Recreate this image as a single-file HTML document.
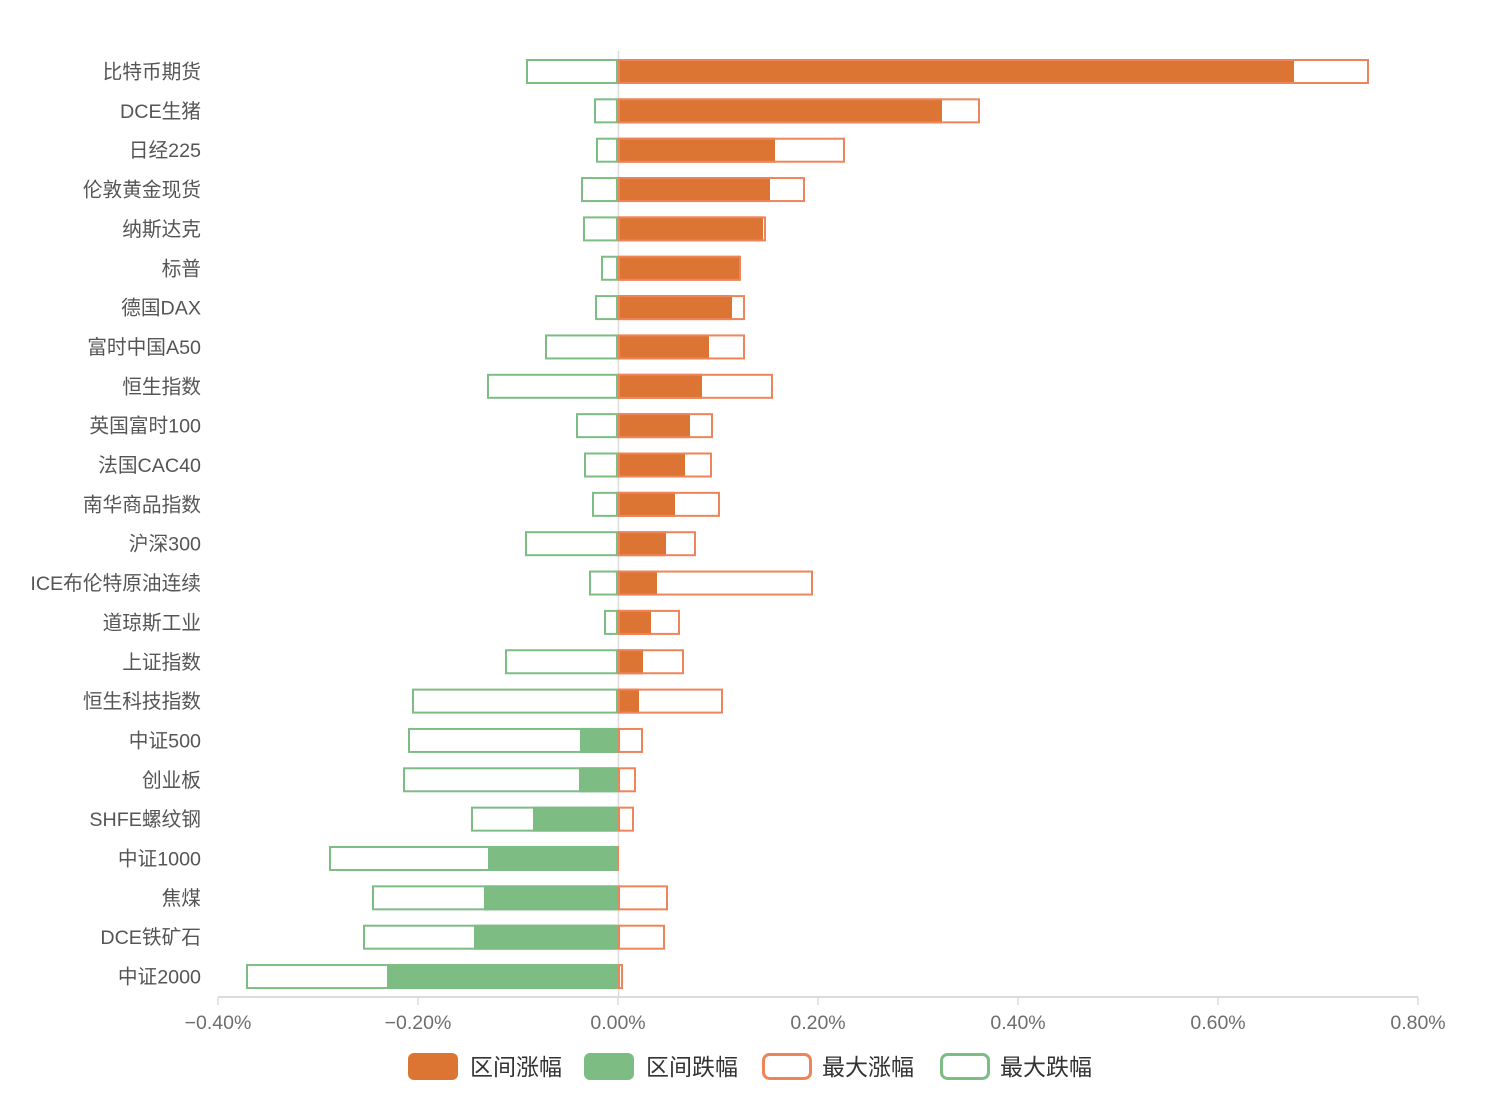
<!DOCTYPE html>
<html><head><meta charset="utf-8"><style>
html,body{margin:0;padding:0;background:#fff;}
svg{display:block;}
text{font-family:"Liberation Sans","Noto Sans CJK SC",sans-serif;}
</style></head><body>
<svg id="c" width="1508" height="1108" xmlns="http://www.w3.org/2000/svg">
<line x1="618.5" y1="51" x2="618.5" y2="997" stroke="#dcdcdc" stroke-width="1.5"/>
<g id="bars"></g>
<line x1="218" y1="997" x2="1418" y2="997" stroke="#dcdcdc" stroke-width="2"/>
<g stroke="#dcdcdc" stroke-width="1.5">
<line x1="218" y1="997" x2="218" y2="1005"/><line x1="418" y1="997" x2="418" y2="1005"/>
<line x1="618" y1="997" x2="618" y2="1005"/><line x1="818" y1="997" x2="818" y2="1005"/>
<line x1="1018" y1="997" x2="1018" y2="1005"/><line x1="1218" y1="997" x2="1218" y2="1005"/>
<line x1="1418" y1="997" x2="1418" y2="1005"/></g>
<g font-size="19.5" fill="#6e6e6e" text-anchor="middle">
<text x="218" y="1029">−0.40%</text><text x="418" y="1029">−0.20%</text><text x="618" y="1029">0.00%</text>
<text x="818" y="1029">0.20%</text><text x="1018" y="1029">0.40%</text><text x="1218" y="1029">0.60%</text><text x="1418" y="1029">0.80%</text></g>
<g font-size="23" fill="#333">
<rect x="408" y="1053" width="50" height="27" rx="6" fill="#dc7433"/><text x="470" y="1075">区间涨幅</text>
<rect x="584" y="1053" width="50" height="27" rx="6" fill="#7dbd84"/><text x="646" y="1075">区间跌幅</text>
<rect x="763.5" y="1054.5" width="47" height="24" rx="6" fill="#fff" stroke="#ee8459" stroke-width="3"/><text x="822" y="1075">最大涨幅</text>
<rect x="941.5" y="1054.5" width="47" height="24" rx="6" fill="#fff" stroke="#7dbd84" stroke-width="3"/><text x="1000" y="1075">最大跌幅</text>
</g>
</svg>
<script>
var d=[["比特币期货",526,618,1294,1369],["DCE生猪",594,618,942,980],["日经225",596,618,775,845],["伦敦黄金现货",581,618,770,805],["纳斯达克",583,618,763,766],["标普",601,618,740,741],["德国DAX",595,618,732,745],["富时中国A50",545,618,709,745],["恒生指数",487,618,702,773],["英国富时100",576,618,690,713],["法国CAC40",584,618,685,712],["南华商品指数",592,618,675,720],["沪深300",525,618,666,696],["ICE布伦特原油连续",589,618,657,813],["道琼斯工业",604,618,651,680],["上证指数",505,618,643,684],["恒生科技指数",412,618,639,723],["中证500",408,580,618,643],["创业板",403,579,618,636],["SHFE螺纹钢",471,533,618,634],["中证1000",329,488,618,619],["焦煤",372,484,618,668],["DCE铁矿石",363,474,618,665],["中证2000",246,387,618,623]];
var s="";
d.forEach(function(r,i){var cy=71.5+i*39.35,y=cy-12.5,h=25;
s+='<text x="201" y="'+(cy+7)+'" font-size="19.7" fill="#555" text-anchor="end">'+r[0]+'</text>';
if(r[2]<618)s+='<rect x="'+r[2]+'" y="'+y+'" width="'+(618-r[2])+'" height="'+h+'" fill="#7dbd84"/>';
if(r[3]>618)s+='<rect x="618" y="'+y+'" width="'+(r[3]-618)+'" height="'+h+'" fill="#dc7433"/>';
s+='<rect x="'+(r[1]+1)+'" y="'+(y+1)+'" width="'+(617-r[1]-1)+'" height="'+(h-2)+'" fill="none" stroke="#7dbd84" stroke-width="2"/>';
if(r[4]-618>2)s+='<rect x="619" y="'+(y+1)+'" width="'+(r[4]-620)+'" height="'+(h-2)+'" fill="none" stroke="#ee8459" stroke-width="2"/>';
else s+='<rect x="618" y="'+y+'" width="'+Math.max(1,r[4]-618)+'" height="'+h+'" fill="#ee8459"/>';
});
document.getElementById("bars").innerHTML=s;
</script>
</body></html>
